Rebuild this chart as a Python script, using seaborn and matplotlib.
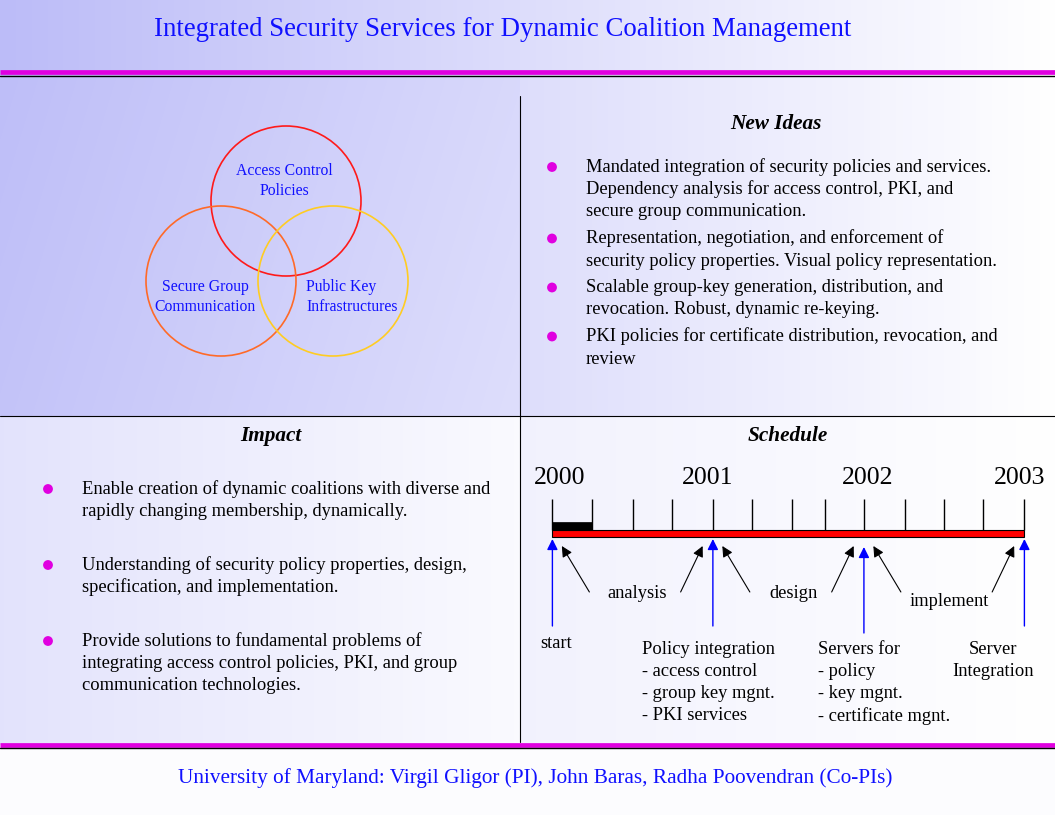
import numpy as np
import pandas as pd
import matplotlib.pyplot as plt
import seaborn as sns
from matplotlib.patches import Circle

# ---- data ----
title = "Integrated Security Services for Dynamic Coalition Management"
footer = "University of Maryland: Virgil Gligor (PI), John Baras, Radha Poovendran (Co-PIs)"

venn_labels = ["Access Control\nPolicies", "Secure Group\nCommunication", "Public Key\nInfrastructures"]
venn_colors = ["#ff1a1a", "#ff6a28", "#ffcc22"]

new_ideas = [
    "Mandated integration of security policies and services.\nDependency analysis for access control, PKI, and\nsecure group communication.",
    "Representation, negotiation, and enforcement of\nsecurity policy properties. Visual policy representation.",
    "Scalable group-key generation, distribution, and\nrevocation. Robust, dynamic re-keying.",
    "PKI policies for certificate distribution, revocation, and\nreview",
]
impact = [
    "Enable creation of dynamic coalitions with diverse and\nrapidly changing membership, dynamically.",
    "Understanding of security policy properties, design,\nspecification, and implementation.",
    "Provide solutions to fundamental problems of\nintegrating access control policies, PKI, and group\ncommunication technologies.",
]

years = [2000, 2001, 2002, 2003]
tick_years = [2000.0, 2000.25, 2000.51, 2000.76, 2001.02, 2001.27, 2001.52,
              2001.73, 2001.98, 2002.24, 2002.49, 2002.74, 2003.0]
done_until = 2000.25
phases = ["analysis", "design", "implement"]
milestones = [
    "start",
    "Policy integration\n- access control\n- group key mgnt.\n- PKI services",
    "Servers for\n- policy\n- key mgnt.\n- certificate mgnt.",
    "Server\nIntegration",
]

# ---- style ----
sns.set_theme(style="white")
plt.rcParams["font.family"] = ["Liberation Serif", "DejaVu Serif"]
plt.rcParams["text.color"] = "black"
W, H = 1055, 815
BLUE = "#1010ff"
MAG = "#e000e0"
FS = 13.3

fig = plt.figure(figsize=(W / 100, H / 100), dpi=100)
ax = fig.add_axes([0, 0, 1, 1])
ax.set_xlim(0, W)
ax.set_ylim(H, 0)
ax.axis("off")

# background gradient, one per panel
X, Y = np.meshgrid(np.arange(W), np.arange(H))
t = X / W
m = (Y >= 76) & (Y < 416) & (X < 520)
t = np.where(m, 0.03 + 0.4 * X / 520 + 0.08 * (Y - 76) / 340, t)
m = (Y >= 76) & (Y < 416) & (X >= 520)
t = np.where(m, 0.5 + 0.5 * (X - 520) / 535, t)
m = (Y >= 416) & (Y < 745) & (X < 520)
t = np.where(m, 0.58 + 0.35 * X / 520, t)
m = (Y >= 416) & (Y < 745) & (X >= 520)
t = np.where(m, 0.8 + 0.2 * (X - 520) / 535, t)
t = np.where(Y >= 745, 0.96, t)
t = np.clip(t, 0, 1)[..., None]
base = np.array([188, 188, 248]) / 255
bg = base + t * (1 - base)
ax.imshow(bg, extent=(0, W, H, 0), aspect="auto", zorder=0)

# rules
ax.plot([0, W], [72, 72], color=MAG, lw=3.4, solid_capstyle="butt", zorder=2)
ax.plot([0, W], [75.5, 75.5], color="black", lw=1.0, zorder=2)
ax.plot([0, W], [744.5, 744.5], color=MAG, lw=3.4, solid_capstyle="butt", zorder=2)
ax.plot([0, W], [747.5, 747.5], color="black", lw=1.0, zorder=2)
ax.plot([520, 520], [96, 742], color="black", lw=0.8, zorder=2)
ax.plot([0, W], [416, 416], color="black", lw=0.8, zorder=2)

# title / footer, fitted to width
t1 = ax.text(503, 29, title, color=BLUE, fontsize=19, ha="center", va="center")
t2 = ax.text(535, 778, footer, color=BLUE, fontsize=15, ha="center", va="center")
fig.canvas.draw()
r = fig.canvas.get_renderer()
for txt, target in [(t1, 696), (t2, 719)]:
    w = txt.get_window_extent(r).width
    txt.set_fontsize(txt.get_fontsize() * target / w)

# venn
centers = [(286, 201), (221, 281), (333, 281)]
for (cx, cy), col in zip(centers, venn_colors):
    ax.add_patch(Circle((cx, cy), 75, fill=False, ec=col, lw=1.2, zorder=3))
ax.text(284, 181, venn_labels[0], color=BLUE, fontsize=11.3, ha="center", va="center",
        linespacing=1.3, zorder=4)
ax.text(205, 297, venn_labels[1], color=BLUE, fontsize=11.3, ha="center", va="center",
        linespacing=1.3, zorder=4)
ax.text(306, 297, venn_labels[2], color=BLUE, fontsize=11.3, ha="left", va="center",
        linespacing=1.3, zorder=4)

# section headers
for x, y, s in [(776, 124, "New Ideas"), (271, 436, "Impact"), (788, 436, "Schedule")]:
    ax.text(x, y, s, fontsize=15.3, fontweight="bold", fontstyle="italic",
            ha="center", va="center", zorder=4)


def bullets(items, x_dot, x_txt, y0, step, gap):
    rows = []
    y = y0
    for item in items:
        rows.append({"x": x_dot, "y": y})
        for line in item.split("\n"):
            ax.text(x_txt, y, line, fontsize=FS, ha="left", va="center", zorder=4)
            y += step
        y += gap
    return pd.DataFrame(rows)


dots = pd.concat([
    bullets(new_ideas, 552, 586, 167, 22.5, 4),
    bullets(impact, 48, 82, 489, 22, 32),
])
sns.scatterplot(data=dots, x="x", y="y", ax=ax, color=MAG, s=50, edgecolor="none",
                legend=False, zorder=5)
ax.set_xlim(0, W)
ax.set_ylim(H, 0)
ax.axis("off")

# ---- schedule timeline (x in years) ----
ppy = (1024.4 - 552.4) / 3
tax = fig.add_axes([0, 0, 1, 1])
tax.set_xlim(2000 - 552.4 / ppy, 2000 + (W - 552.4) / ppy)
tax.set_ylim(H, 0)
tax.axis("off")
tax.patch.set_alpha(0)

tax.barh(533, years[-1] - years[0], left=years[0], height=7, color="#ff0000",
         edgecolor="black", linewidth=0.8, zorder=3)
tax.barh(525.5, done_until - years[0], left=years[0], height=8, color="black",
         edgecolor="black", linewidth=0.5, zorder=4)
tax.vlines(tick_years, 499, 530, color="black", lw=1, zorder=2)

mile_x = tick_years[::4]
for yr, px, off in zip(years, mile_x, [0.045, -0.035, 0.025, -0.03]):
    tax.text(px + off, 478, str(yr), fontsize=18.5, ha="center", va="center", zorder=4)

# milestone arrows
for i, px in enumerate(mile_x):
    tip = 547 if i == 2 else 539
    bot = 633 if i == 2 else 626
    tax.annotate("", xy=(px, tip), xytext=(px, bot),
                 arrowprops=dict(arrowstyle="-|>", color="#0000ff", lw=1,
                                 mutation_scale=16, shrinkA=0, shrinkB=0), zorder=5)

# phase arrows and labels
for i, ph in enumerate(phases):
    s, e = mile_x[i], mile_x[i + 1]
    for hx, tx in [(s + 0.06, s + 0.235), (e - 0.065, e - 0.205)]:
        tax.annotate("", xy=(hx, 546), xytext=(tx, 592),
                     arrowprops=dict(arrowstyle="-|>", color="black", lw=0.8,
                                     mutation_scale=16, shrinkA=0, shrinkB=0), zorder=5)
    ly = 601 if i == 2 else 593
    tax.text((s + e) / 2 + 0.03, ly, ph, fontsize=FS, ha="center", va="center", zorder=4)

# milestone labels
tax.text(mile_x[0] + 0.025, 643, milestones[0], fontsize=FS, ha="center", va="center")
for i, off in [(1, -0.45), (2, -0.295)]:
    for j, line in enumerate(milestones[i].split("\n")):
        tax.text(mile_x[i] + off, 649 + 22.3 * j, line, fontsize=FS, ha="left", va="center")
for j, line in enumerate(milestones[3].split("\n")):
    tax.text(mile_x[3] - 0.2, 649 + 22 * j, line, fontsize=FS, ha="center", va="center")

fig.savefig("out.png", dpi=100)
